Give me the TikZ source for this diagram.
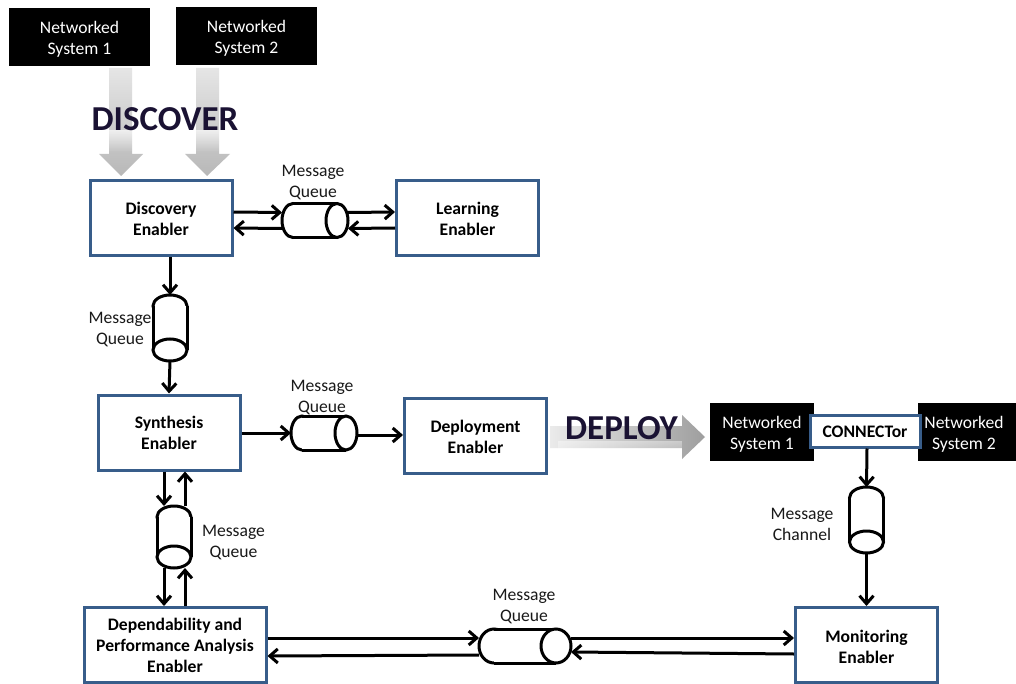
\documentclass[tikz,border=0pt]{standalone}
\usepackage{fontspec}
\setmainfont{Carlito}
\usetikzlibrary{arrows.meta,fadings}
\definecolor{bluebox}{HTML}{385D8A}
\definecolor{bigtext}{HTML}{1A1233}
\newcommand\lowB[1]{\raisebox{-2pt}[\height][\depth]{#1}}
\newcommand\lowA[1]{\raisebox{-1pt}[\height][\depth]{#1}}
\tikzset{
  x=1pt,y=-1pt,
  bx/.style={draw=bluebox,line width=3pt,fill=white,align=center,minimum width=142pt,minimum height=75pt,inner sep=0pt,font=\fontsize{17.6}{21}\selectfont\bfseries},
  blk/.style={fill=black,text=white,align=center,minimum width=141pt,minimum height=58pt,inner sep=0pt,font=\fontsize{17.6}{21}\selectfont},
  lbl/.style={align=center,inner sep=0pt,yshift=-1pt,text=black!90,font=\fontsize{17.6}{21}\selectfont},
  cylnode/.style={inner sep=0pt,outer sep=0pt},
  cylline/.style={draw=black,line width=3pt,fill=white},
  arr/.style={draw=black,line width=3pt,-{Straight Barb[length=8pt,width=14pt,line width=3pt]}},
  bigtxt/.style={inner sep=0pt,text=bigtext,font=\fontsize{35}{35}\selectfont\bfseries},
}
% name, cx, cy, half length, half thickness, end radius; ellipse on the right end
\newcommand\cylH[6]{%
  \node[cylnode,minimum width=#4*2pt,minimum height=#5*2pt] (#1) at (#2,#3) {};
  \draw[cylline] ({#2-#4+#6},#3) ellipse [x radius=#6pt,y radius=#5pt];
  \fill[white] ({#2-#4+#6},{#3-#5}) rectangle ({#2+#4-#6},{#3+#5});
  \draw[line width=3pt] ({#2-#4+#6},{#3-#5}) -- ({#2+#4-#6},{#3-#5}) ({#2-#4+#6},{#3+#5}) -- ({#2+#4-#6},{#3+#5});
  \draw[cylline] ({#2+#4-#6},#3) ellipse [x radius=#6pt,y radius=#5pt];
}
% name, cx, cy, half thickness, half length; ellipse on the bottom end
\newcommand\cylV[5]{%
  \node[cylnode,minimum width=#4*2pt,minimum height=#5*2pt] (#1) at (#2,#3) {};
  \draw[cylline] (#2,{#3-#5+11}) ellipse [x radius=#4pt,y radius=11pt];
  \fill[white] ({#2-#4},{#3-#5+11}) rectangle ({#2+#4},{#3+#5-11});
  \draw[line width=3pt] ({#2-#4},{#3-#5+11}) -- ({#2-#4},{#3+#5-11}) ({#2+#4},{#3-#5+11}) -- ({#2+#4},{#3+#5-11});
  \draw[cylline] (#2,{#3+#5-11}) ellipse [x radius=#4pt,y radius=11pt];
}
\begin{document}
\begin{tikzpicture}
\useasboundingbox (0,0) rectangle (1016,684);
\fill[white] (0,0) rectangle (1016,684);
% black system boxes
\node[blk] (ns1) at (79.5,37) {\lowB{Networked}\\\lowB{System 1}};
\node[blk] (ns2) at (246.5,36) {\lowB{Networked}\\\lowB{System 2}};
\node[blk,minimum width=104pt] (dns1) at (762,432) {\lowB{Networked}\\\lowB{System 1}};
\node[blk,minimum width=98pt] (dns2) at (967,432) {\hspace*{-6pt}\lowB{Networked}\\\hspace*{-6pt}\lowB{System 2}};
% big gradient arrows
\shade[top color=black!10,bottom color=black!28] (109,68) -- (132,68) -- (132,154) -- (143,154) -- (121,176) -- (99,154) -- (109,154) -- cycle;
\shade[top color=black!10,bottom color=black!28] (196,68) -- (219,68) -- (219,154) -- (230,154) -- (207,176) -- (185,154) -- (196,154) -- cycle;
\shade[left color=black!8,right color=black!38] (550,426) -- (682,426) -- (682,415) -- (705,437) -- (682,459) -- (682,448) -- (550,448) -- cycle;
\fill[white,opacity=.7,path fading=south] (88,130) rectangle (245,152);
\fill[white,opacity=.4,path fading=south] (558,441) rectangle (682,460);
\node[bigtxt] (discover) at (165,119) {DISCOVER};
\node[bigtxt] (deploy) at (621.5,428) {DEPLOY};
% enabler boxes
\node[bx] (disc) at (161,218) {\lowA{Discovery}\\\lowA{Enabler}};
\node[bx] (learn) at (467.5,218) {\lowA{Learning}\\\lowA{Enabler}};
\node[bx] (synth) at (169,432.5) {Synthesis\\Enabler};
\node[bx] (depl) at (475.5,436) {\lowA{Deployment}\\\lowA{Enabler}};
\node[bx,minimum width=182pt] (dep) at (175,645) {Dependability and\\Performance Analysis\\Enabler};
\node[bx] (mon) at (866.5,645) {\lowB{Monitoring}\\\lowB{Enabler}};
\node[bx,minimum width=110pt,minimum height=32pt] (conn) at (865,431) {\lowA{CONNECTor}};
% queues
\cylH{q1}{315}{220.5}{33}{17}{11}
\cylV{q2}{170}{328}{17}{33}
\cylH{q3}{324}{433}{33}{17}{11}
\cylV{q4}{174}{537}{17}{31}
\cylH{q5}{525}{646}{46}{17}{15}
\cylV{q6}{866.5}{520}{17}{33}
% labels
\node[lbl] (l1) at (313,181.5) {Message\\Queue};
\node[lbl] (l2) at (120,328.5) {Message\\Queue};
\node[lbl] (l3) at (322,396.5) {Message\\Queue};
\node[lbl] (l4) at (233.5,541.5) {Message\\Queue};
\node[lbl] (l5) at (524,605.5) {Message\\Queue};
\node[lbl] (l6) at (802,523) {Message\\Channel};
% connectors
\draw[arr] ([yshift=6pt]disc.east) -- ([yshift=8pt]q1.west);
\draw[arr] ([yshift=-8pt]q1.west) -- ([yshift=-10pt]disc.east);
\draw[arr] ([yshift=8pt]q1.east) -- ([yshift=6pt]learn.west);
\draw[arr] ([yshift=-10pt]learn.west) -- ([yshift=-8pt]q1.east);
\draw[arr] ([xshift=9pt]disc.south) -- (q2.north);
\draw[arr] (q2.south) -- (synth.north);
\draw[arr] ([yshift=-0.5pt]synth.east) -- (q3.west);
\draw[arr] ([yshift=-2pt]q3.east) -- ([yshift=1pt]depl.west);
\draw[arr] ([xshift=-5pt]synth.south) -- ([xshift=-10pt]q4.north);
\draw[arr] ([xshift=11pt]q4.north) -- ([xshift=16pt]synth.south);
\draw[arr] ([xshift=-10pt]q4.south) -- ([xshift=-11pt]dep.north);
\draw[arr] ([xshift=10pt]dep.north) -- ([xshift=11pt]q4.south);
\draw[arr] ([yshift=7pt]dep.east) -- ([yshift=8pt]q5.west);
\draw[arr] ([yshift=-9pt]q5.west) -- ([yshift=-11pt]dep.east);
\draw[arr] ([yshift=8pt]q5.east) -- ([yshift=7pt]mon.west);
\draw[arr] ([yshift=-9pt]mon.west) -- ([yshift=-6pt]q5.east);
\draw[arr] ([xshift=2pt]conn.south) -- (q6.north);
\draw[arr] (q6.south) -- (mon.north);
\end{tikzpicture}
\end{document}
